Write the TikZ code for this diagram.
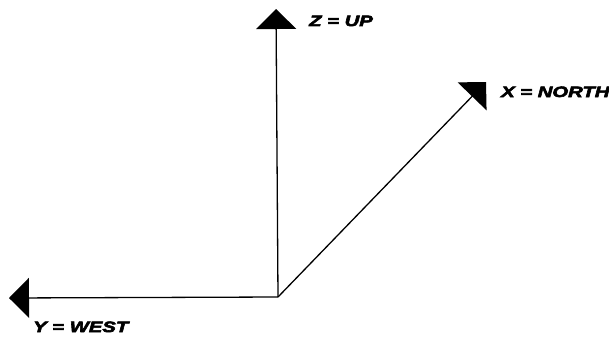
\documentclass[tikz,border=0pt]{standalone}
\usepackage{fontspec}
\setmainfont{Liberation Sans}
\newfontfamily\labfam{Liberation Sans}[FakeStretch=1.35, FakeBold=4]
\usetikzlibrary{arrows.meta}
\tikzset{
  axis/.style={line width=1.3pt, -{Triangle[width=40pt,length=20pt]}},
  axlabel/.style={anchor=base west, inner sep=0pt, font=\fontsize{15}{17}\labfam\bfseries\itshape}
}
\begin{document}
\begin{tikzpicture}[x=1pt,y=-1pt]
\useasboundingbox (0,0) rectangle (609,337);
\coordinate (O) at (278,297);
\coordinate (Z) at (276,9);
\coordinate (X) at (486,82);
\coordinate (Y) at (9,298);
\draw[axis] (O) -- (Z);
\draw[axis] (O) -- (X);
\draw[axis] (O) -- (Y);
\node[axlabel] (zl) at (309,26) {Z = UP};
\node[axlabel] (xl) at (501,97) {X = NORTH};
\node[axlabel] (yl) at (33,332) {Y = WEST};
\end{tikzpicture}
\end{document}
